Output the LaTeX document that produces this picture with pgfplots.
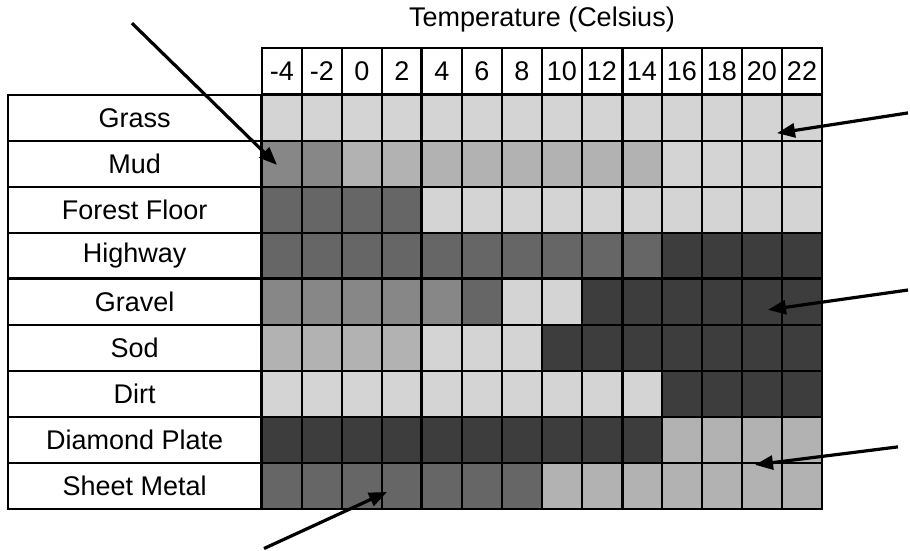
\documentclass[border=0pt]{standalone}
\usepackage{fontspec}
\setmainfont{Liberation Sans}
\usepackage{pgfplots}
\pgfplotsset{compat=1.18}
\usetikzlibrary{arrows.meta}

\begin{document}
\begin{tikzpicture}[font=\fontsize{13.5}{16}\selectfont,
  pointer/.style={line width=1.6pt, -{Triangle[length=9pt,width=7pt]}}]
\begin{axis}[
  x=10pt, y=23pt,
  xmin=-5, xmax=23, ymin=0.5, ymax=9.5,
  clip=false, axis on top,
  axis line style={line width=1.3pt},
  colormap={grays}{gray(0cm)=(0.83); gray(1cm)=(0.70); gray(2cm)=(0.53); gray(3cm)=(0.40); gray(4cm)=(0.24)},
  colormap access=direct,
  xtick={-4,-2,...,22},
  xticklabel pos=upper,
  xticklabels={-4,-2,0,2,4,6,8,10,12,14,16,18,20,22},
  ytick={1,...,9},
  yticklabels={Sheet Metal,Diamond Plate,Dirt,Sod,Gravel,Highway,Forest Floor,Mud,Grass},
  major tick length=0pt, minor tick length=0pt,
  minor xtick={-3,-1,...,21}, minor ytick={1.5,2.5,...,8.5},
  grid=minor,
  minor grid style={black, line width=0.85pt},
  xticklabel style={draw, line width=0.85pt, inner sep=0pt,
    minimum width=20pt, minimum height=23pt, anchor=south},
  yticklabel style={draw, line width=0.85pt, inner sep=0pt,
    minimum width=126.5pt, minimum height=23pt, anchor=east},
]
% level 0 = lightest ... 4 = darkest
\addplot[matrix plot*, mesh/cols=14, point meta=explicit] coordinates {
(-4,1)[3] (-2,1)[3] (0,1)[3] (2,1)[3] (4,1)[3] (6,1)[3] (8,1)[3] (10,1)[1] (12,1)[1] (14,1)[1] (16,1)[1] (18,1)[1] (20,1)[1] (22,1)[1]
(-4,2)[4] (-2,2)[4] (0,2)[4] (2,2)[4] (4,2)[4] (6,2)[4] (8,2)[4] (10,2)[4] (12,2)[4] (14,2)[4] (16,2)[1] (18,2)[1] (20,2)[1] (22,2)[1]
(-4,3)[0] (-2,3)[0] (0,3)[0] (2,3)[0] (4,3)[0] (6,3)[0] (8,3)[0] (10,3)[0] (12,3)[0] (14,3)[0] (16,3)[4] (18,3)[4] (20,3)[4] (22,3)[4]
(-4,4)[1] (-2,4)[1] (0,4)[1] (2,4)[1] (4,4)[0] (6,4)[0] (8,4)[0] (10,4)[4] (12,4)[4] (14,4)[4] (16,4)[4] (18,4)[4] (20,4)[4] (22,4)[4]
(-4,5)[2] (-2,5)[2] (0,5)[2] (2,5)[2] (4,5)[2] (6,5)[3] (8,5)[0] (10,5)[0] (12,5)[4] (14,5)[4] (16,5)[4] (18,5)[4] (20,5)[4] (22,5)[4]
(-4,6)[3] (-2,6)[3] (0,6)[3] (2,6)[3] (4,6)[3] (6,6)[3] (8,6)[3] (10,6)[3] (12,6)[3] (14,6)[3] (16,6)[4] (18,6)[4] (20,6)[4] (22,6)[4]
(-4,7)[3] (-2,7)[3] (0,7)[3] (2,7)[3] (4,7)[0] (6,7)[0] (8,7)[0] (10,7)[0] (12,7)[0] (14,7)[0] (16,7)[0] (18,7)[0] (20,7)[0] (22,7)[0]
(-4,8)[2] (-2,8)[2] (0,8)[1] (2,8)[1] (4,8)[1] (6,8)[1] (8,8)[1] (10,8)[1] (12,8)[1] (14,8)[1] (16,8)[0] (18,8)[0] (20,8)[0] (22,8)[0]
(-4,9)[0] (-2,9)[0] (0,9)[0] (2,9)[0] (4,9)[0] (6,9)[0] (8,9)[0] (10,9)[0] (12,9)[0] (14,9)[0] (16,9)[0] (18,9)[0] (20,9)[0] (22,9)[0]
};

% heavier separators
\draw[line width=1.5pt] (axis cs:3,0.5) -- (axis cs:3,10.5);
\draw[line width=1.5pt] (axis cs:13,0.5) -- (axis cs:13,10.5);
\draw[line width=1.5pt] (axis cs:-17.65,5.5) -- (axis cs:23,5.5);

\node at (axis cs:9,11.13) {Temperature (Celsius)};

% pointers
\draw[pointer] (axis cs:-11.5,11.06) -- (axis cs:-4.25,7.98);
\draw[pointer] (axis cs:27.3,9.11) -- (axis cs:20.75,8.67);
\draw[pointer] (axis cs:27.3,5.26) -- (axis cs:20.3,4.83);
\draw[pointer] (axis cs:26.8,1.85) -- (axis cs:19.65,1.46);
\draw[pointer] (axis cs:-4.9,-0.36) -- (axis cs:1.25,0.87);

\path (axis cs:-18.1,-0.391) rectangle (axis cs:27.4,11.565);
\end{axis}
\end{tikzpicture}
\end{document}
